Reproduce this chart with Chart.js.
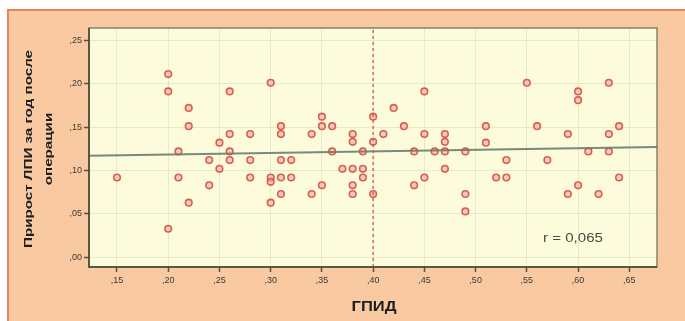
<!DOCTYPE html>
<html>
<head>
<meta charset="utf-8">
<script src="https://cdn.jsdelivr.net/npm/chart.js@4/dist/chart.umd.min.js"></script>
<style>
html,body{margin:0;padding:0;background:#fff;}
#wrap{width:685px;height:321px;position:relative;}
</style>
</head>
<body>
<div id="wrap"><canvas id="c" width="685" height="321"></canvas></div>
<script>
// ---- data ----
const gpidX = [0.15,0.20,0.20,0.20,0.21,0.21,0.22,0.22,0.22,0.24,0.24,0.25,0.25,0.26,0.26,0.26,0.26,0.28,0.28,0.28,
  0.30,0.30,0.30,0.30,0.31,0.31,0.31,0.31,0.31,0.32,0.32,0.34,0.34,0.35,0.35,0.35,0.36,0.36,0.37,0.38,
  0.38,0.38,0.38,0.38,0.39,0.39,0.39,0.40,0.40,0.40,0.41,0.42,0.43,0.44,0.44,0.45,0.45,0.45,0.46,0.47,
  0.47,0.47,0.47,0.49,0.49,0.49,0.51,0.51,0.52,0.53,0.53,0.55,0.56,0.57,0.59,0.59,0.60,0.60,0.60,0.61,
  0.62,0.63,0.63,0.63,0.64,0.64];
const lpiGain = [0.092,0.211,0.191,0.033,0.122,0.092,0.172,0.151,0.063,0.112,0.083,0.132,0.102,0.191,0.142,0.122,0.112,0.142,0.112,0.092,
  0.201,0.092,0.087,0.063,0.151,0.142,0.112,0.092,0.073,0.112,0.092,0.142,0.073,0.162,0.151,0.083,0.151,0.122,0.102,0.142,
  0.133,0.102,0.083,0.073,0.122,0.102,0.092,0.162,0.133,0.073,0.142,0.172,0.151,0.122,0.083,0.191,0.142,0.092,0.122,0.142,
  0.133,0.122,0.102,0.122,0.073,0.053,0.151,0.132,0.092,0.092,0.112,0.201,0.151,0.112,0.142,0.073,0.191,0.181,0.083,0.122,
  0.073,0.201,0.142,0.122,0.151,0.092];
const regX = [0.1227, 0.677];
const regY = [0.117, 0.127];
const refLineX = 0.40;
const xTicks = [0.15,0.20,0.25,0.30,0.35,0.40,0.45,0.50,0.55,0.60,0.65];
const xTickLabels = [',15',',20',',25',',30',',35',',40',',45',',50',',55',',60',',65'];
const yTicks = [0.00,0.05,0.10,0.15,0.20,0.25];
const yTickLabels = [',00',',05',',10',',15',',20',',25'];
const xRange = [0.1227, 0.677];
const yRange = [-0.011, 0.264];
const xTitle = 'ГПИД';
const yTitleLines = ['Прирост ЛПИ за год после', 'операции'];
const rLabel = 'r = 0,065';

const pts = gpidX.map((x,i)=>({x:x, y:lpiGain[i]}));

const decor = {
  id:'decor',
  beforeDraw(chart){
    const ctx = chart.ctx, a = chart.chartArea;
    ctx.save();
    ctx.fillStyle = '#ffffff'; ctx.fillRect(0,0,685,321);
    ctx.fillStyle = '#f9c9a1'; ctx.fillRect(8,10,677,311);
    ctx.fillStyle = '#e9825e'; ctx.fillRect(8,9,677,2); ctx.fillRect(7,9,2,312);
    ctx.fillStyle = '#fcfcdc'; ctx.fillRect(a.left,a.top,a.right-a.left,a.bottom-a.top);
    ctx.restore();
  },
  afterDraw(chart){
    const ctx = chart.ctx, a = chart.chartArea;
    ctx.save();
    ctx.strokeStyle = 'rgba(120,120,90,0.9)'; ctx.lineWidth = 1.5;
    ctx.strokeRect(a.left, a.top, a.right-a.left, a.bottom-a.top);
    ctx.strokeStyle = 'rgba(80,80,60,0.9)'; ctx.lineWidth = 2;
    ctx.beginPath(); ctx.moveTo(a.left, a.top); ctx.lineTo(a.left,a.bottom); ctx.lineTo(a.right,a.bottom); ctx.stroke();
    // x title
    ctx.fillStyle = '#1e1e1e';
    ctx.font = 'bold 13px "Liberation Sans", Arial, sans-serif';
    ctx.textAlign = 'center'; ctx.textBaseline = 'middle';
    let w = ctx.measureText(xTitle).width;
    ctx.save(); ctx.translate(374,307); ctx.scale(45/w,1.1); ctx.fillText(xTitle,0,0); ctx.restore();
    // y title
    ctx.font = 'bold 11px "Liberation Sans", Arial, sans-serif';
    const w1 = ctx.measureText(yTitleLines[0]).width;
    const s = 198/w1;
    ctx.save(); ctx.translate(29,149); ctx.rotate(-Math.PI/2); ctx.scale(s,1.05);
    ctx.fillText(yTitleLines[0],0,0); ctx.restore();
    ctx.save(); ctx.translate(49,149); ctx.rotate(-Math.PI/2); ctx.scale(s,1.05);
    ctx.fillText(yTitleLines[1],0,0); ctx.restore();
    // r label
    ctx.fillStyle = '#4a4a40';
    ctx.font = '13px "Liberation Sans", Arial, sans-serif';
    ctx.textAlign = 'left';
    w = ctx.measureText(rLabel).width;
    ctx.save(); ctx.translate(543,238); ctx.scale(60/w,1); ctx.fillText(rLabel,0,0); ctx.restore();
    ctx.restore();
  }
};

new Chart(document.getElementById('c'), {
  type:'scatter',
  data:{
    datasets:[
      {type:'line', data:[{x:refLineX,y:yRange[0]},{x:refLineX,y:yRange[1]}], borderColor:'rgba(205,85,80,0.85)', borderWidth:1.5, borderDash:[3,3], pointRadius:0, order:0},
      {type:'line', data:[{x:regX[0],y:regY[0]},{x:regX[1],y:regY[1]}], borderColor:'rgba(105,125,110,0.9)', borderWidth:2, pointRadius:0, order:0},
      {data:pts, pointRadius:3.3, borderWidth:1.6, borderColor:'rgba(212,80,72,0.9)', backgroundColor:'rgba(245,165,150,0.55)', order:1}
    ]
  },
  options:{
    responsive:false, animation:false, devicePixelRatio:1,
    layout:{padding:{left:0,top:28,right:28,bottom:0}},
    plugins:{legend:{display:false}, tooltip:{enabled:false}},
    scales:{
      x:{type:'linear', min:xRange[0], max:xRange[1],
        afterBuildTicks(ax){ ax.ticks = xTicks.map(v=>({value:v})); },
        afterFit(ax){ ax.height = 54; },
        ticks:{autoSkip:false, maxRotation:0, padding:3, color:'#3a3a30',
          font:{size:9, family:'"Liberation Sans", Arial, sans-serif'},
          callback:(v,i)=>xTickLabels[i]},
        grid:{color:'rgba(190,200,165,0.35)', tickColor:'rgba(70,70,55,0.9)', tickLength:5, tickWidth:1.5},
        border:{display:false}
      },
      y:{type:'linear', min:yRange[0], max:yRange[1],
        afterBuildTicks(ax){ ax.ticks = yTicks.map(v=>({value:v})); },
        afterFit(ax){ ax.width = 89; },
        ticks:{autoSkip:false, padding:2, color:'#3a3a30',
          font:{size:9, family:'"Liberation Sans", Arial, sans-serif'},
          callback:(v,i)=>yTickLabels[i]},
        grid:{color:'rgba(190,200,165,0.35)', tickColor:'rgba(70,70,55,0.9)', tickLength:5, tickWidth:1.5},
        border:{display:false}
      }
    }
  },
  plugins:[decor]
});
</script>
</body>
</html>
